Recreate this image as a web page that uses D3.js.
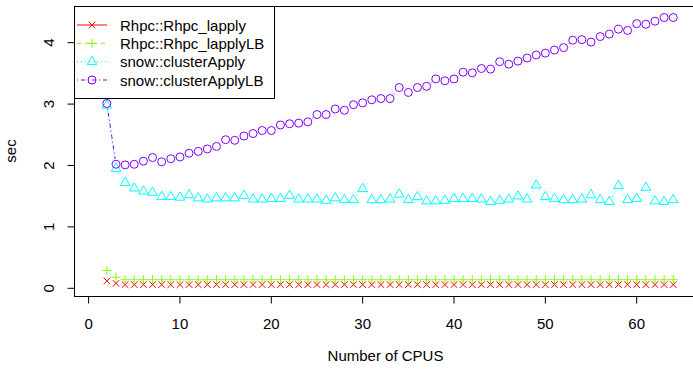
<!doctype html>
<html lang="en">
  <head>
    <meta charset="utf-8">
    <title>Rhpc vs snow timing</title>
    <script src="https://d3js.org/d3.v7.min.js"></script>
    <style>
      body { margin: 0; background: #fff; }
      svg text { font-family: "Liberation Sans", Arial, sans-serif; font-size: 15px; fill: #000; }
    </style>
  </head>
  <body>
    <div id="chart"></div>
    <script>
      // number of CPUs on the x axis
      const cpus = [2, 3, 4, 5, 6, 7, 8, 9, 10, 11, 12, 13, 14, 15, 16, 17, 18, 19, 20, 21,
        22, 23, 24, 25, 26, 27, 28, 29, 30, 31, 32, 33, 34, 35, 36, 37, 38, 39, 40, 41,
        42, 43, 44, 45, 46, 47, 48, 49, 50, 51, 52, 53, 54, 55, 56, 57, 58, 59, 60, 61,
        62, 63, 64];

      // seconds
      const rhpcLapply = [0.12, 0.08, 0.06, 0.06, 0.06, 0.06, 0.06, 0.06, 0.06, 0.06, 0.06,
        0.06, 0.06, 0.06, 0.06, 0.06, 0.06, 0.06, 0.06, 0.06, 0.06, 0.06, 0.06, 0.06, 0.06,
        0.06, 0.06, 0.06, 0.06, 0.06, 0.06, 0.06, 0.06, 0.06, 0.06, 0.06, 0.06, 0.06, 0.06,
        0.06, 0.06, 0.06, 0.06, 0.06, 0.06, 0.06, 0.06, 0.06, 0.06, 0.06, 0.06, 0.06, 0.06,
        0.06, 0.06, 0.06, 0.06, 0.06, 0.06, 0.06, 0.06, 0.06, 0.06];
      const rhpcLapplyLB = [0.29, 0.18, 0.14, 0.14, 0.14, 0.14, 0.14, 0.14, 0.14, 0.14, 0.14,
        0.14, 0.14, 0.14, 0.14, 0.14, 0.14, 0.14, 0.14, 0.14, 0.14, 0.14, 0.14, 0.14, 0.14,
        0.14, 0.14, 0.14, 0.14, 0.14, 0.14, 0.14, 0.14, 0.14, 0.14, 0.14, 0.14, 0.14, 0.14,
        0.14, 0.14, 0.14, 0.14, 0.14, 0.14, 0.14, 0.14, 0.14, 0.14, 0.14, 0.14, 0.14, 0.14,
        0.14, 0.14, 0.14, 0.14, 0.14, 0.14, 0.14, 0.14, 0.14, 0.14];
      const clusterApply = [2.98, 1.95, 1.72, 1.63, 1.58, 1.56, 1.49, 1.49, 1.48, 1.52, 1.47,
        1.45, 1.47, 1.47, 1.47, 1.51, 1.45, 1.45, 1.46, 1.46, 1.51, 1.45, 1.45, 1.45, 1.43,
        1.47, 1.44, 1.44, 1.62, 1.44, 1.44, 1.45, 1.53, 1.44, 1.49, 1.42, 1.42, 1.43, 1.46,
        1.46, 1.46, 1.45, 1.41, 1.43, 1.45, 1.50, 1.45, 1.68, 1.49, 1.46, 1.44, 1.44, 1.45,
        1.52, 1.44, 1.41, 1.67, 1.44, 1.46, 1.64, 1.42, 1.41, 1.44];
      const clusterApplyLB = [3.01, 2.02, 2.01, 2.02, 2.07, 2.13, 2.06, 2.11, 2.14, 2.20, 2.23,
        2.27, 2.31, 2.42, 2.41, 2.48, 2.52, 2.57, 2.57, 2.66, 2.68, 2.69, 2.71, 2.83, 2.83,
        2.92, 2.90, 2.99, 3.02, 3.07, 3.09, 3.09, 3.27, 3.19, 3.27, 3.29, 3.41, 3.38, 3.41,
        3.52, 3.51, 3.58, 3.57, 3.69, 3.65, 3.70, 3.75, 3.80, 3.83, 3.88, 3.92, 4.04, 4.05,
        4.01, 4.10, 4.14, 4.22, 4.20, 4.31, 4.30, 4.35, 4.41, 4.41];

      const seriesNames = ["Rhpc::Rhpc_lapply", "Rhpc::Rhpc_lapplyLB", "snow::clusterApply", "snow::clusterApplyLB"];
      const xTicks = [0, 10, 20, 30, 40, 50, 60];
      const yTicks = [0, 1, 2, 3, 4];

      const width = 693, height = 369;
      const box = {left: 74, top: 6, right: 700, bottom: 296};

      const svg = d3.select("#chart").append("svg")
        .attr("width", width)
        .attr("height", height);

      const x = d3.scaleLinear().domain([0, 60]).range([88.6, 636.7]);
      const y = d3.scaleLinear().domain([0, 4]).range([288.3, 42.7]);

      // rainbow(4) and R line types 1..4
      const styles = [
        {color: "#FF0000", dash: null, pch: "x"},
        {color: "#80FF00", dash: "4,4", pch: "+"},
        {color: "#00FFFF", dash: "1,3", pch: "tri"},
        {color: "#8000FF", dash: "1,3,4,3", pch: "o"}
      ];
      const allSeries = [rhpcLapply, rhpcLapplyLB, clusterApply, clusterApplyLB];

      function drawPoint(g, px, py, pch, color) {
        if (pch === "x") {
          const h = 3.3;
          g.append("path")
            .attr("d", `M${px - h},${py - h}L${px + h},${py + h}M${px - h},${py + h}L${px + h},${py - h}`)
            .attr("stroke", color).attr("fill", "none");
        } else if (pch === "+") {
          const h = 4.5;
          g.append("path")
            .attr("d", `M${px - h},${py}L${px + h},${py}M${px},${py - h}L${px},${py + h}`)
            .attr("stroke", color).attr("fill", "none");
        } else if (pch === "tri") {
          const xc = 4.8;
          g.append("path")
            .attr("d", `M${px},${py - xc * 1.1547}L${px + xc},${py + xc * 0.5774}L${px - xc},${py + xc * 0.5774}Z`)
            .attr("stroke", color).attr("fill", "none");
        } else {
          g.append("circle")
            .attr("cx", px).attr("cy", py).attr("r", 4)
            .attr("stroke", color).attr("fill", "none");
        }
      }

      // series: type = "b" (segments with a gap round each point)
      const gap = 5.5;
      allSeries.forEach(function (vals, k) {
        const st = styles[k];
        const g = svg.append("g");
        for (let i = 0; i < vals.length - 1; i++) {
          const x0 = x(cpus[i]), y0 = y(vals[i]), x1 = x(cpus[i + 1]), y1 = y(vals[i + 1]);
          const len = Math.hypot(x1 - x0, y1 - y0);
          if (len <= 2 * gap) continue;
          const ux = (x1 - x0) / len, uy = (y1 - y0) / len;
          g.append("line")
            .attr("x1", x0 + ux * gap).attr("y1", y0 + uy * gap)
            .attr("x2", x1 - ux * gap).attr("y2", y1 - uy * gap)
            .attr("stroke", st.color)
            .attr("stroke-dasharray", st.dash);
        }
        vals.forEach(function (v, i) {
          drawPoint(g, x(cpus[i]), y(v), st.pch, st.color);
        });
      });

      // plot box
      svg.append("rect")
        .attr("x", box.left + 0.5).attr("y", box.top + 0.5)
        .attr("width", box.right - box.left).attr("height", box.bottom - box.top)
        .attr("fill", "none").attr("stroke", "#000");

      // x axis
      const xAxis = svg.append("g").attr("transform", `translate(0,${box.bottom + 0.5})`);
      xAxis.append("line")
        .attr("x1", x(xTicks[0])).attr("x2", x(xTicks[xTicks.length - 1]))
        .attr("stroke", "#000");
      xTicks.forEach(function (t) {
        xAxis.append("line")
          .attr("x1", x(t)).attr("x2", x(t)).attr("y1", 0).attr("y2", 7)
          .attr("stroke", "#000");
        xAxis.append("text")
          .attr("x", x(t)).attr("y", 32)
          .attr("text-anchor", "middle")
          .text(t);
      });

      // y axis
      const yAxis = svg.append("g").attr("transform", `translate(${box.left + 0.5},0)`);
      yAxis.append("line")
        .attr("y1", y(yTicks[0])).attr("y2", y(yTicks[yTicks.length - 1]))
        .attr("stroke", "#000");
      yTicks.forEach(function (t) {
        yAxis.append("line")
          .attr("x1", 0).attr("x2", -7).attr("y1", y(t)).attr("y2", y(t))
          .attr("stroke", "#000");
        yAxis.append("text")
          .attr("transform", `translate(-21,${y(t)}) rotate(-90)`)
          .attr("text-anchor", "middle")
          .text(t);
      });

      // axis titles
      svg.append("text")
        .attr("x", (box.left + 693) / 2 + 2).attr("y", 361)
        .attr("text-anchor", "middle")
        .text("Number of CPUS");
      svg.append("text")
        .attr("transform", `translate(16,${(box.top + box.bottom) / 2}) rotate(-90)`)
        .attr("text-anchor", "middle")
        .text("sec");

      // legend
      const legend = svg.append("g");
      legend.append("rect")
        .attr("x", 74.5).attr("y", 6.5).attr("width", 200).attr("height", 92)
        .attr("fill", "#fff").attr("stroke", "#000");
      const rowY = [25, 43.3, 61.7, 80];
      seriesNames.forEach(function (name, k) {
        const st = styles[k];
        legend.append("line")
          .attr("x1", 77).attr("x2", 107).attr("y1", rowY[k]).attr("y2", rowY[k])
          .attr("stroke", st.color)
          .attr("stroke-dasharray", st.dash);
        drawPoint(legend, 92, rowY[k], st.pch, st.color);
        legend.append("text")
          .attr("x", 120).attr("y", rowY[k] + 5.5)
          .text(name);
      });
    </script>
  </body>
</html>
